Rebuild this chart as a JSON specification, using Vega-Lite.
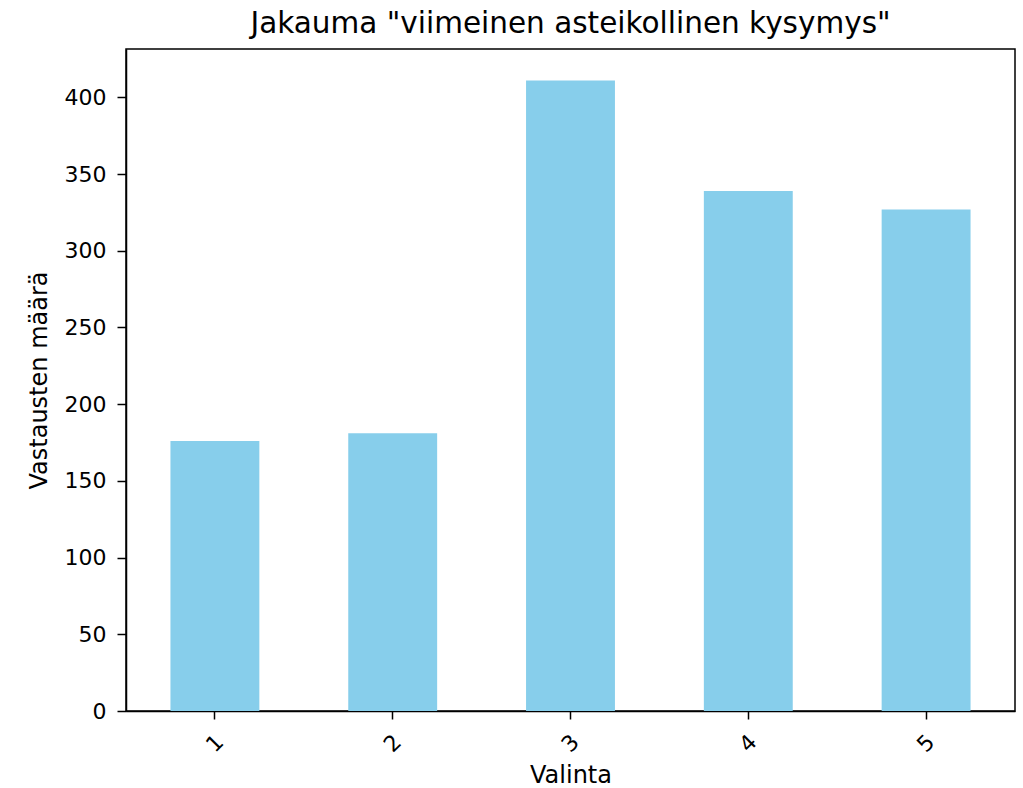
{
  "$schema": "https://vega.github.io/schema/vega-lite/v6.json",
  "width": 889,
  "height": 662,
  "autosize": {"type": "none"},
  "padding": {"left": 126, "top": 49, "right": 8, "bottom": 77},
  "background": "white",
  "title": {
    "text": "Jakauma \"viimeinen asteikollinen kysymys\"",
    "font": "DejaVu Sans",
    "fontSize": 29.5,
    "fontWeight": "normal",
    "color": "black",
    "offset": 10,
    "anchor": "middle"
  },
  "data": {
    "values": [
      {"Valinta": "1", "count": 176},
      {"Valinta": "2", "count": 181},
      {"Valinta": "3", "count": 411},
      {"Valinta": "4", "count": 339},
      {"Valinta": "5", "count": 327}
    ]
  },
  "config": {
    "view": {"stroke": "black", "strokeWidth": 1.5},
    "axis": {
      "labelFont": "DejaVu Sans",
      "titleFont": "DejaVu Sans",
      "labelFontSize": 22,
      "titleFontSize": 24,
      "titleFontWeight": "normal",
      "labelColor": "black",
      "titleColor": "black",
      "domainColor": "black",
      "domainWidth": 1.5,
      "tickColor": "black",
      "tickWidth": 1.5,
      "tickSize": 8,
      "grid": false
    }
  },
  "mark": {"type": "bar", "color": "#87CEEB"},
  "encoding": {
    "x": {
      "field": "Valinta",
      "type": "ordinal",
      "scale": {"paddingInner": 0.5, "paddingOuter": 0.25},
      "axis": {
        "title": "Valinta",
        "labelAngle": -45,
        "labelAlign": "center",
        "labelBaseline": "middle",
        "labelPadding": 24,
        "titlePadding": 8
      }
    },
    "y": {
      "field": "count",
      "type": "quantitative",
      "scale": {"domain": [0, 431.55], "nice": false},
      "axis": {
        "title": "Vastausten määrä",
        "values": [0, 50, 100, 150, 200, 250, 300, 350, 400],
        "tickSize": 9,
        "labelPadding": 11,
        "titlePadding": 13
      }
    }
  }
}
